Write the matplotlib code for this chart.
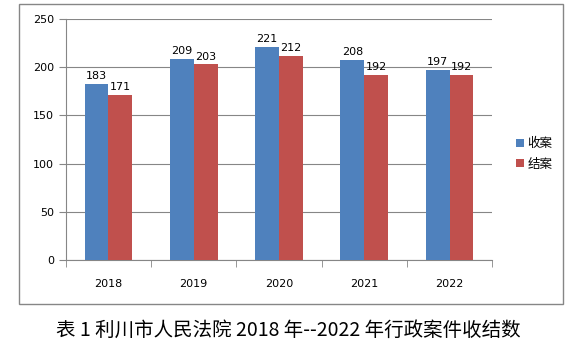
import matplotlib.pyplot as plt
import numpy as np
from matplotlib.patches import Rectangle

plt.rcParams['font.family'] = ['Noto Sans CJK SC', 'DejaVu Sans']

years = ['2018', '2019', '2020', '2021', '2022']
received = [183, 209, 221, 208, 197]
closed = [171, 203, 212, 192, 192]
series_names = ['收案', '结案']
caption = '表 1 利川市人民法院 2018 年--2022 年行政案件收结数'

fig = plt.figure(figsize=(5.77, 3.54), dpi=100)
ax = fig.add_axes([0.114, 0.2655, 0.739, 0.6805])

x = np.arange(len(years))
w = 0.28
b1 = ax.bar(x - w / 2, received, w, color='#4F81BD', label=series_names[0], zorder=3)
b2 = ax.bar(x + w / 2, closed, w, color='#C0504D', label=series_names[1], zorder=3)
for bars in (b1, b2):
    for r in bars:
        ax.text(r.get_x() + r.get_width() / 2, r.get_height() + 3, str(int(r.get_height())),
                ha='center', va='bottom', fontsize=8, family='DejaVu Sans')

ax.set_xlim(-0.5, len(years) - 0.5)
ax.set_ylim(0, 250)
ax.set_yticks(range(0, 251, 50))
ax.yaxis.grid(True, color='#868686', lw=0.8, zorder=0)
ax.set_xticks(x)
ax.set_xticklabels(years, fontsize=8, family='DejaVu Sans')
ax.set_xticks(np.arange(-0.5, len(years)), minor=True)
ax.tick_params(axis='x', which='major', length=0, pad=14)
ax.tick_params(axis='x', which='minor', length=5, color='#868686')
ax.tick_params(axis='y', length=5, color='#868686', labelsize=8)
for lab in ax.get_yticklabels():
    lab.set_family('DejaVu Sans')
for s in ['top', 'right']:
    ax.spines[s].set_visible(False)
for s in ['left', 'bottom']:
    ax.spines[s].set_color('#868686')

fig.legend(handles=[b1, b2], loc='center left', bbox_to_anchor=(0.875, 0.565),
           frameon=False, fontsize=9, handlelength=0.6, handleheight=0.6,
           handletextpad=0.3, labelspacing=0.6)

fig.patches.append(Rectangle((0.033, 0.141), 0.943, 0.847, transform=fig.transFigure,
                             fill=False, edgecolor='#868686', lw=1))

fig.text(0.5, 0.068, caption, ha='center', va='center', fontsize=14)

fig.savefig('out.png', dpi=100)
